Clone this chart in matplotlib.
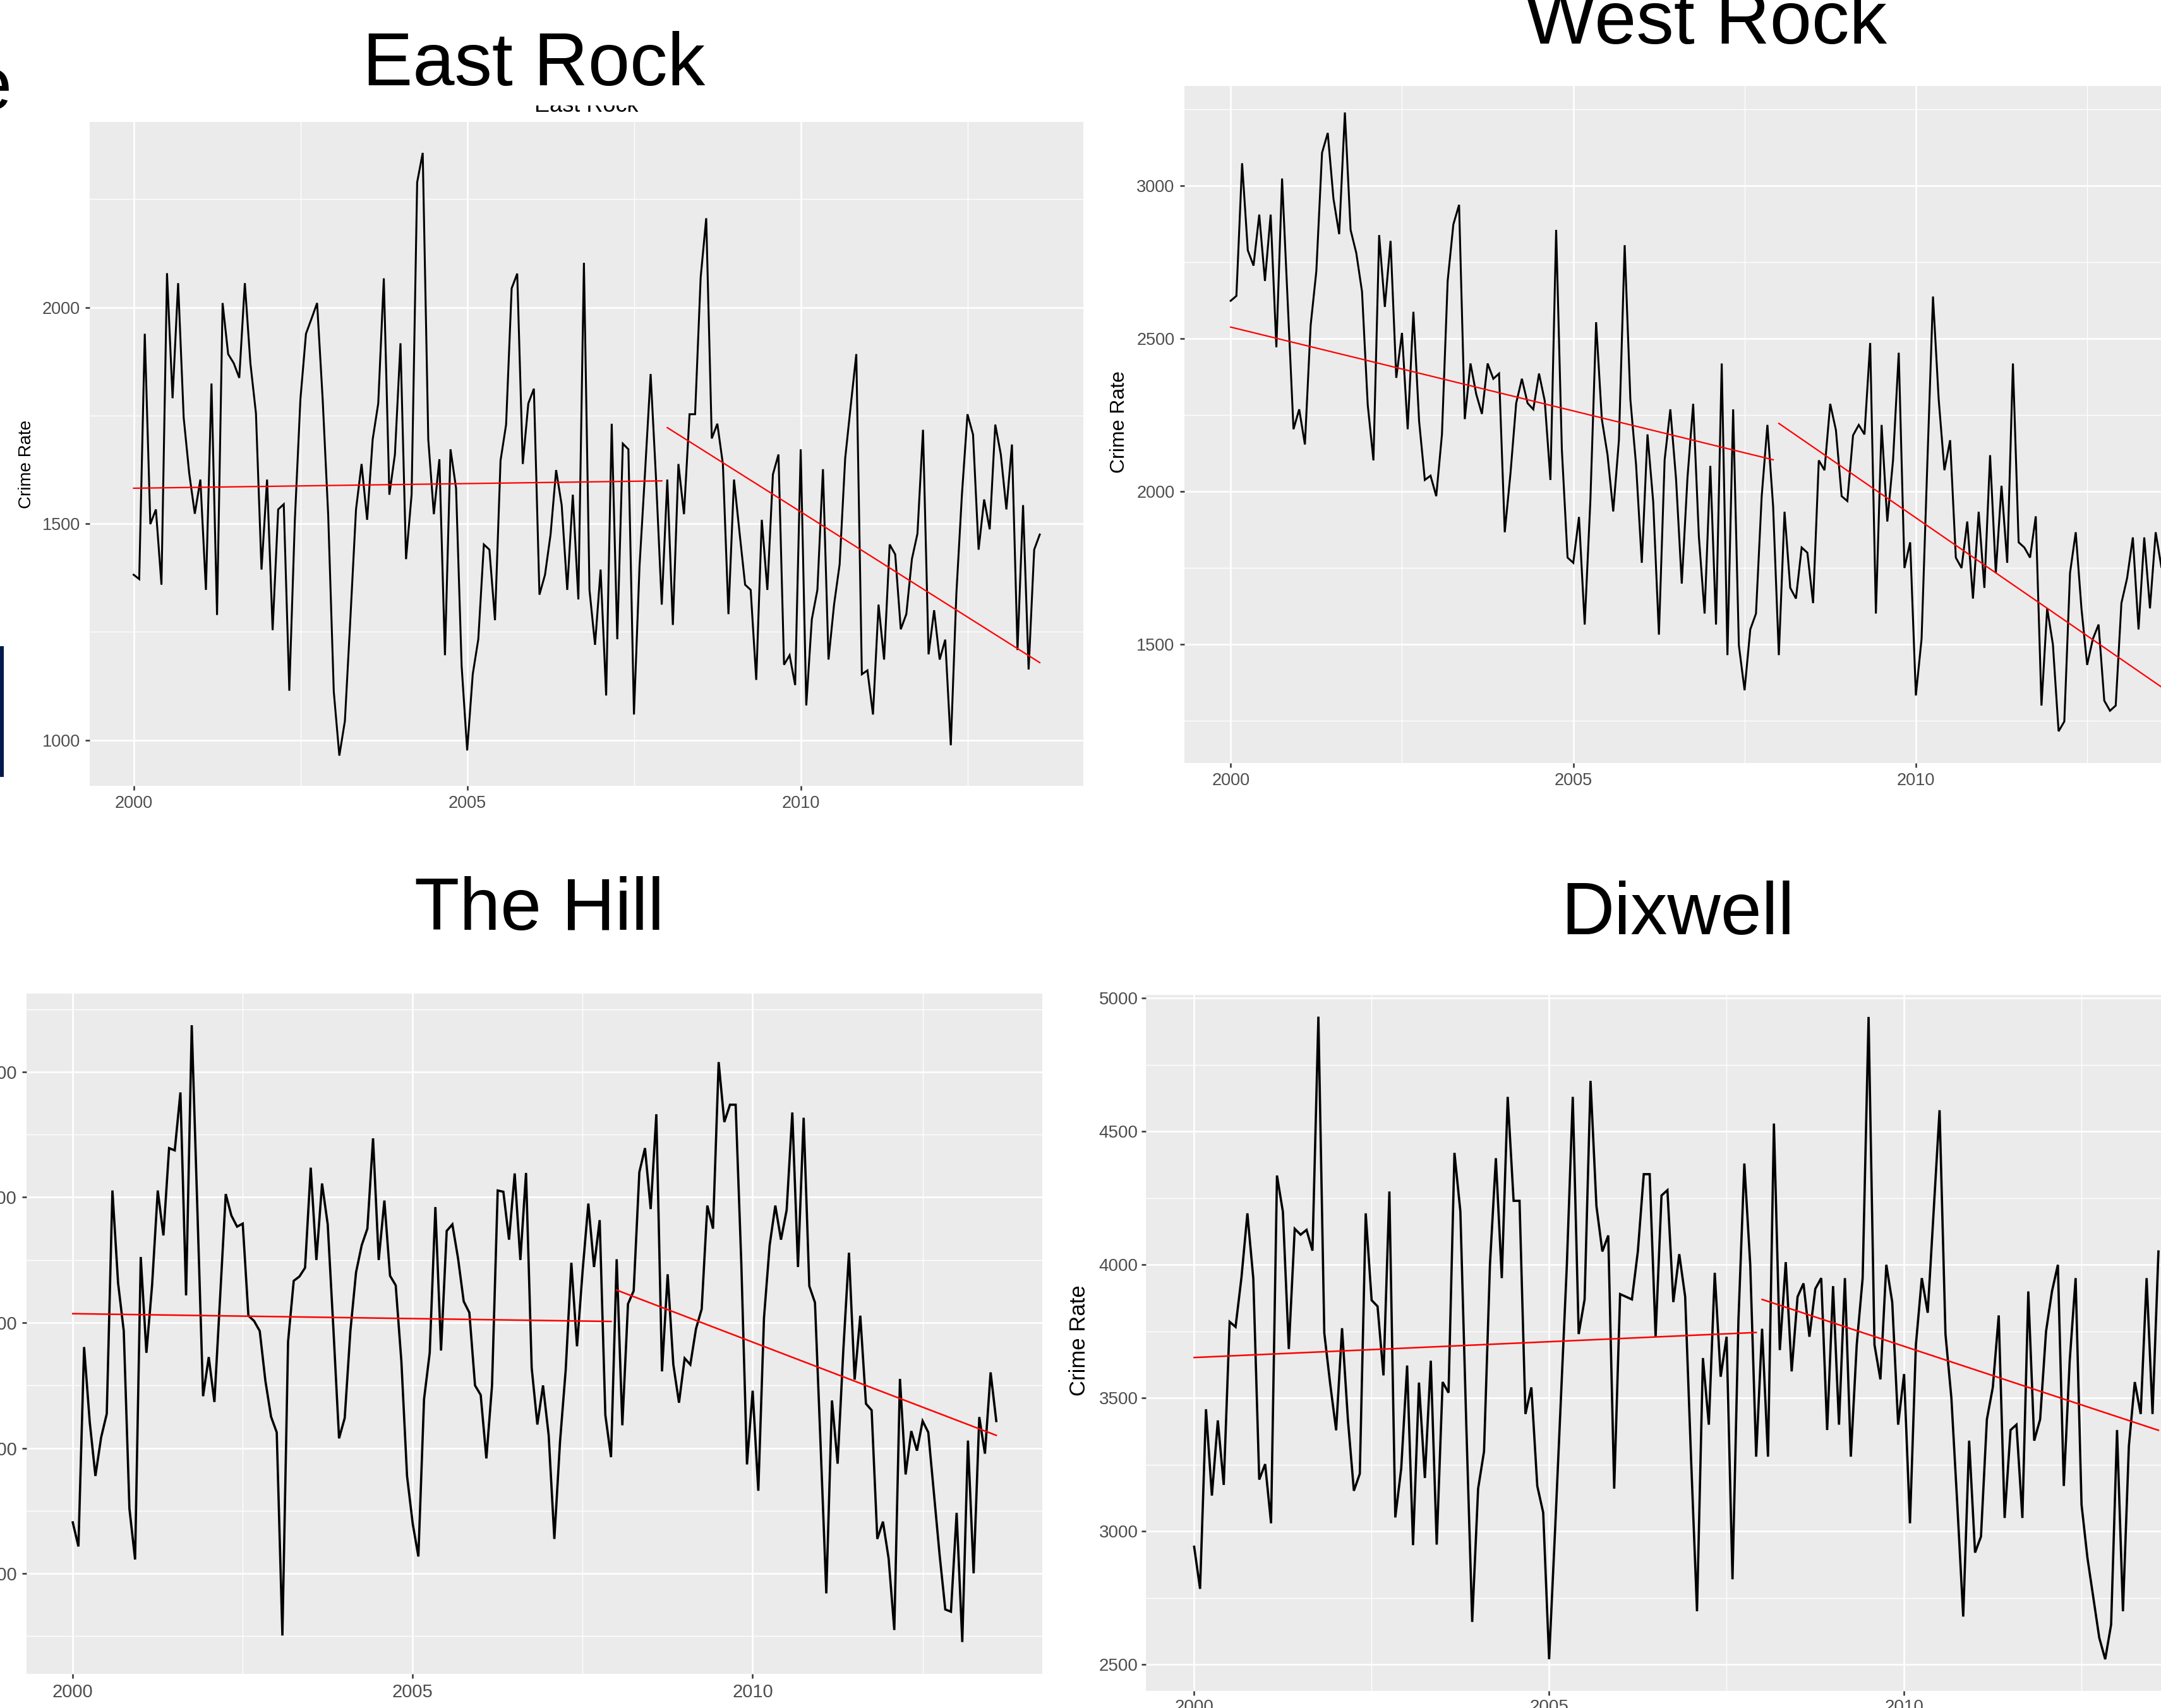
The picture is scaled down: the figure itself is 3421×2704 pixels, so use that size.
import numpy as np
import matplotlib
matplotlib.use("Agg")
import matplotlib.pyplot as plt
from matplotlib.patches import Rectangle

plt.rcParams['font.family'] = ['Liberation Sans', 'DejaVu Sans']

W, H = 3421, 2704

# ---------------- data (monthly crime counts, Jan 2000 .. Aug 2013) ----------------
east_rock = [1382, 1372, 1939, 1499, 1533, 1359, 2079, 1790, 2056, 1745,
             1616, 1523, 1602, 1347, 1824, 1289, 2010, 1892, 1871, 1837,
             2056, 1871, 1755, 1394, 1602, 1254, 1533, 1545, 1114, 1509,
             1788, 1939, 1974, 2010, 1788, 1519, 1112, 964, 1044, 1284,
             1533, 1638, 1509, 1695, 1778, 2067, 1567, 1660, 1917, 1418,
             1567, 2289, 2357, 1695, 1522, 1649, 1196, 1672, 1582, 1171,
             976, 1152, 1233, 1452, 1440, 1277, 1646, 1729, 2044, 2078,
             1638, 1778, 1812, 1336, 1382, 1475, 1624, 1543, 1347, 1567,
             1325, 2103, 1347, 1220, 1394, 1103, 1731, 1233, 1685, 1672,
             1059, 1401, 1620, 1846, 1597, 1313, 1602, 1266, 1638, 1522,
             1753, 1753, 2069, 2206, 1697, 1731, 1638, 1291, 1602, 1479,
             1359, 1347, 1139, 1509, 1347, 1614, 1660, 1174, 1196, 1127,
             1672, 1080, 1279, 1347, 1626, 1186, 1313, 1406, 1651, 1773,
             1892, 1152, 1161, 1059, 1313, 1186, 1452, 1429, 1256, 1291,
             1418, 1477, 1717, 1198, 1300, 1186, 1232, 988, 1338, 1567,
             1753, 1706, 1440, 1556, 1487, 1729, 1660, 1533, 1683, 1208,
             1543, 1163, 1440, 1475]

west_rock = [2623, 2639, 3073, 2788, 2738, 2905, 2688, 2905, 2471, 3023,
             2613, 2203, 2268, 2153, 2542, 2720, 3107, 3172, 2957, 2841,
             3239, 2855, 2779, 2653, 2283, 2101, 2838, 2603, 2819, 2371,
             2518, 2203, 2587, 2229, 2037, 2051, 1984, 2186, 2688, 2873,
             2937, 2236, 2418, 2318, 2253, 2418, 2368, 2385, 1866, 2058,
             2288, 2368, 2288, 2268, 2385, 2296, 2037, 2855, 2136, 1783,
             1766, 1916, 1564, 1972, 2553, 2236, 2119, 1934, 2169, 2805,
             2300, 2086, 1766, 2186, 1965, 1531, 2103, 2268, 2040, 1698,
             2044, 2286, 1851, 1600, 2083, 1564, 2418, 1464, 2268, 1496,
             1349, 1548, 1600, 1984, 2217, 1951, 1464, 1933, 1684, 1649,
             1816, 1799, 1634, 2101, 2069, 2286, 2200, 1984, 1968, 2183,
             2217, 2186, 2485, 1600, 2217, 1901, 2101, 2453, 1749, 1833,
             1332, 1517, 2086, 2637, 2300, 2069, 2167, 1783, 1749, 1901,
             1649, 1933, 1684, 2118, 1733, 2018, 1766, 2418, 1833, 1816,
             1783, 1918, 1299, 1617, 1499, 1215, 1247, 1733, 1866, 1617,
             1432, 1517, 1564, 1315, 1282, 1299, 1634, 1716, 1849, 1548,
             1849, 1617, 1866, 1752]

the_hill = [2204, 2108, 2903, 2603, 2389, 2542, 2637, 3527, 3158, 2967,
            2259, 2056, 3262, 2880, 3149, 3527, 3348, 3696, 3687, 3918,
            3109, 4186, 3444, 2707, 2863, 2684, 3097, 3513, 3427, 3383,
            3395, 3028, 3007, 2967, 2768, 2625, 2563, 1753, 2924, 3167,
            3184, 3219, 3618, 3250, 3555, 3392, 2976, 2539, 2620, 2967,
            3201, 3309, 3375, 3735, 3250, 3487, 3187, 3149, 2846, 2389,
            2199, 2068, 2695, 2880, 3461, 2889, 3366, 3392, 3257, 3085,
            3040, 2750, 2712, 2459, 2750, 3527, 3522, 3331, 3595, 3250,
            3597, 2820, 2594, 2750, 2551, 2138, 2525, 2811, 3239, 2906,
            3210, 3475, 3222, 3409, 2632, 2464, 3253, 2591, 3075, 3127,
            3600, 3696, 3453, 3831, 2806, 3193, 2833, 2681, 2858, 2833,
            2976, 3054, 3467, 3375, 4039, 3800, 3869, 3869, 3236, 2435,
            2729, 2330, 3019, 3309, 3467, 3331, 3449, 3838, 3222, 3817,
            3146, 3080, 2507, 1921, 2690, 2438, 2889, 3279, 2773, 3028,
            2677, 2651, 2138, 2207, 2060, 1775, 2776, 2395, 2568, 2490,
            2608, 2563, 2317, 2074, 1857, 1848, 2242, 1727, 2530, 2001,
            2624, 2478, 2802, 2608]

dixwell = [2942, 2784, 3458, 3134, 3416, 3174, 3786, 3767, 3953, 4193,
           3948, 3194, 3252, 3030, 4335, 4199, 3684, 4135, 4113, 4131,
           4053, 4931, 3744, 3552, 3379, 3762, 3416, 3152, 3216, 4193,
           3867, 3844, 3585, 4275, 3052, 3235, 3622, 2948, 3558, 3200,
           3640, 2950, 3560, 3520, 4420, 4200, 3400, 2660, 3160, 3300,
           4000, 4400, 3950, 4630, 4240, 4240, 3440, 3540, 3170, 3070,
           2520, 3000, 3500, 4000, 4630, 3740, 3870, 4690, 4220, 4050,
           4110, 3160, 3890, 3880, 3870, 4050, 4340, 4340, 3730, 4260,
           4280, 3860, 4040, 3880, 3270, 2700, 3650, 3400, 3970, 3580,
           3730, 2820, 3790, 4380, 4000, 3280, 3760, 3280, 4530, 3680,
           4010, 3600, 3880, 3930, 3730, 3910, 3950, 3380, 3920, 3400,
           3950, 3280, 3700, 3950, 4930, 3700, 3570, 4000, 3860, 3400,
           3590, 3030, 3700, 3950, 3820, 4200, 4580, 3740, 3500, 3100,
           2680, 3340, 2920, 2980, 3420, 3540, 3810, 3050, 3380, 3400,
           3050, 3900, 3340, 3420, 3750, 3900, 4000, 3170, 3640, 3950,
           3100, 2900, 2750, 2600, 2520, 2650, 3380, 2700, 3320, 3560,
           3440, 3950, 3440, 4050]

# piecewise linear trends: (x_start, x_end, y_start, y_end)
er_trends = [(2000.0, 2007.917, 1582, 1599), (2008.0, 2013.583, 1722, 1179)]
wr_trends = [(2000.0, 2007.917, 2537, 2103), (2008.0, 2013.583, 2222, 1360)]
hill_trends = [(2000.0, 2007.917, 3036, 3005), (2008.0, 2013.583, 3130, 2551)]
dix_trends = [(2000.0, 2007.917, 3652, 3746), (2008.0, 2013.583, 3870, 3379)]

x_ticks = [2000, 2005, 2010]
x_minor = [2002.5, 2007.5, 2012.5]
er_yticks = [1000, 1500, 2000]
er_yminor = [1250, 1750, 2250]
wr_yticks = [1500, 2000, 2500, 3000]
wr_yminor = [1250, 1750, 2250, 2750, 3250]
hill_yticks = [2000, 2500, 3000, 3500, 4000]
hill_yminor = [1750, 2250, 2750, 3250, 3750, 4250]
dix_yticks = [2500, 3000, 3500, 4000, 4500, 5000]
dix_yminor = [2750, 3250, 3750, 4250, 4750]

titles = ["East Rock", "West Rock", "The Hill", "Dixwell"]

# ---------------- figure ----------------
fig = plt.figure(figsize=(W / 100, H / 100), dpi=100)
fig.patch.set_facecolor('white')


def px_box(l, t, r, b):
    return [l / W, 1 - b / H, (r - l) / W, (b - t) / H]


def panel(box, series, trends, xlim, ylim, yticks, yminor,
          lw=2.2, rlw=1.6, labelsize=19.5, pad=5.8):
    ax = fig.add_axes(px_box(*box))
    ax.set_facecolor('#EBEBEB')
    for s in ax.spines.values():
        s.set_visible(False)
    ax.set_axisbelow(True)
    x = 2000 + np.arange(len(series)) / 12.0
    ax.plot(x, series, color='black', lw=lw, solid_joinstyle='miter', zorder=3)
    for (x0, x1, y0, y1) in trends:
        ax.plot([x0, x1], [y0, y1], color='red', lw=rlw, zorder=4)
    ax.set_xlim(*xlim)
    ax.set_ylim(*ylim)
    ax.set_xticks(x_ticks)
    ax.set_xticklabels([str(v) for v in x_ticks])
    ax.set_xticks(x_minor, minor=True)
    ax.set_yticks(yticks)
    ax.set_yticklabels([str(v) for v in yticks])
    ax.set_yticks(yminor, minor=True)
    ax.grid(which='major', color='white', lw=1.9)
    ax.grid(which='minor', color='white', lw=0.95)
    ax.tick_params(which='major', length=5, width=1.8, color='#333333',
                   labelsize=labelsize, labelcolor='#4D4D4D', pad=pad)
    ax.tick_params(which='minor', length=0)
    return ax


xl = (1999.32, 2014.26)
ax_er = panel((142, 193, 1715, 1244), east_rock, er_trends,
              (1999.341, 2014.237), (894.3, 2428.6), er_yticks, er_yminor)
ax_wr = panel((1874.5, 135.5, 3495, 1208), west_rock, wr_trends,
              xl, (1111, 3327), wr_yticks, wr_yminor)
ax_hill = panel((42, 1573, 1650, 2650), the_hill, hill_trends,
                xl, (1600, 4312), hill_yticks, hill_yminor,
                lw=2.6, rlw=1.8, labelsize=21)
ax_dix = panel((1814, 1574.5, 3493, 2677.4), dixwell, dix_trends,
               xl, (2400, 5014), dix_yticks, dix_yminor,
               lw=2.6, rlw=1.8, labelsize=20, pad=4)

# y axis titles
fig.text(42 / W, 1 - 735 / H, "Crime Rate", rotation=90, ha='center',
         va='center', fontsize=20, color='black')
fig.text(1772 / W, 1 - 668 / H, "Crime Rate", rotation=90, ha='center',
         va='center', fontsize=23, color='black')
fig.text(1708 / W, 1 - 2122 / H, "Crime Rate", rotation=90, ha='center',
         va='center', fontsize=25, color='black')

# small ggplot title of East Rock, partly covered
fig.text(928 / W, 1 - 177 / H, titles[0], ha='center', va='baseline',
         fontsize=26, color='black', zorder=3)
fig.patches.append(Rectangle((780 / W, 1 - 167 / H), 300 / W, 30 / H,
                             transform=fig.transFigure, facecolor='white',
                             edgecolor='none', zorder=4))

# big slide titles
tfs = 85.7
fig.text(845 / W, 1 - 135 / H, titles[0], ha='center', va='baseline',
         fontsize=tfs, color='black', zorder=5)
fig.text(2701 / W, 1 - 69 / H, titles[1], ha='center', va='baseline',
         fontsize=tfs, color='black', zorder=5)
fig.text(854 / W, 1 - 1472 / H, titles[2], ha='center', va='baseline',
         fontsize=84, color='black', zorder=5)
fig.text(2656 / W, 1 - 1479 / H, titles[3], ha='center', va='baseline',
         fontsize=84, color='black', zorder=5)

# stray fragments at the left edge
fig.text(19 / W, 1 - 173 / H, "e", ha='right', va='baseline',
         fontsize=tfs, color='black', zorder=5)
fig.patches.append(Rectangle((0, 1 - 1230 / H), 6 / W, 207 / H,
                             transform=fig.transFigure, facecolor='#021A4C',
                             edgecolor='none', zorder=5))

fig.savefig("out.png", dpi=100, facecolor='white')
